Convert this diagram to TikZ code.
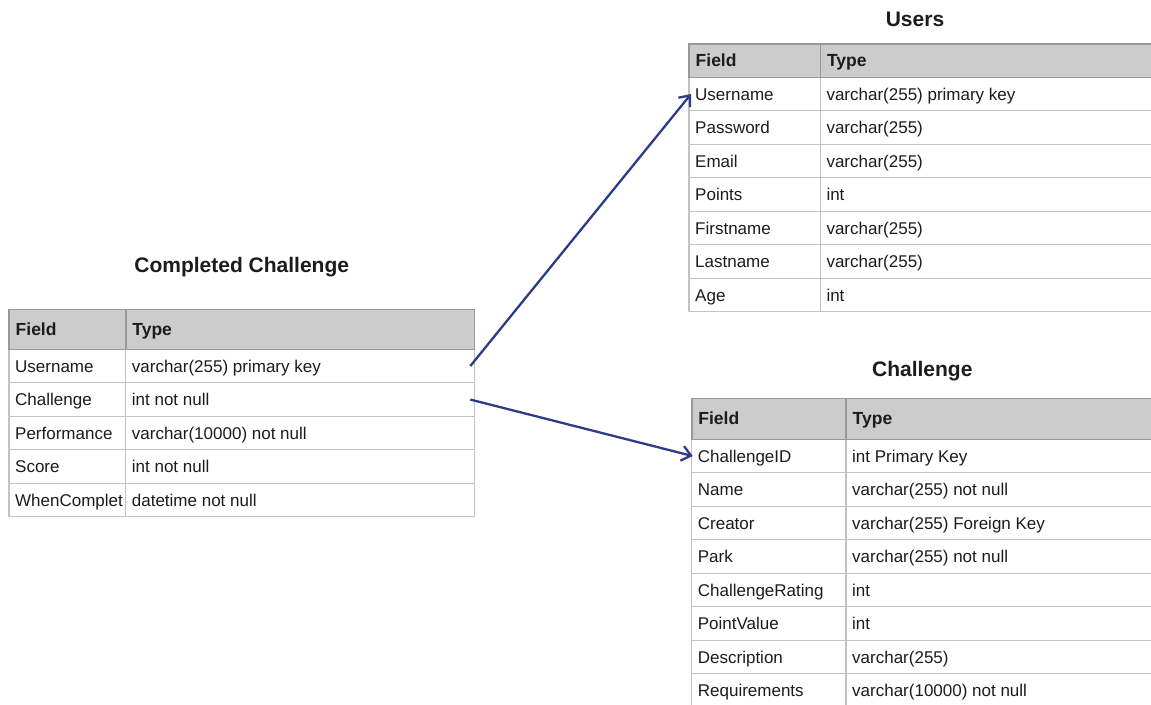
\documentclass[tikz,border=0pt]{standalone}
\usepackage{fontspec}
\setmainfont{Liberation Sans}
\usetikzlibrary{arrows.meta}

\definecolor{hdrfill}{HTML}{CCCCCC}
\definecolor{hdrline}{HTML}{9A9A9A}
\definecolor{rowline}{HTML}{C2C2C2}
\definecolor{linkblue}{HTML}{2E3B86}
\definecolor{ink}{HTML}{1C1C1C}

\tikzset{
  hdrcell/.style={draw=hdrline, fill=hdrfill, line width=1.6pt, rectangle,
    inner sep=0pt, outer sep=0pt, anchor=north west},
  rowcell/.style={draw=rowline, line width=1.3pt, rectangle,
    inner sep=0pt, outer sep=0pt, anchor=north west},
  hdrtext/.style={anchor=west, inner sep=0pt, text=ink,
    text height=12.6pt, text depth=3.6pt,
    font=\fontsize{17.5}{20}\selectfont\bfseries},
  celltext/.style={anchor=west, inner sep=0pt, text=ink,
    text height=12.3pt, text depth=3.6pt,
    font=\fontsize{17}{20}\selectfont},
  tabletitle/.style={inner sep=0pt, text=ink,
    font=\fontsize{21}{24}\selectfont\bfseries},
  link/.style={draw=linkblue, line width=2.3pt,
    -{Straight Barb[length=9pt, width=15pt, line width=2.3pt]}},
}

% #1 name prefix, #2 left x, #3 top y, #4 field column width,
% #5 type column width, #6 header height, #7 rows as Field/Type pairs
\newcommand{\dbtable}[7]{%
  \foreach \fld/\typ [count=\i] in {#7} {
    \pgfmathsetmacro{\yy}{#3+#6+(\i-1)*33.5}
    \node[rowcell, minimum width=#4pt, minimum height=33.5pt] (#1-f\i) at (#2,\yy) {};
    \node[rowcell, minimum width=#5pt, minimum height=33.5pt] (#1-t\i) at (#1-f\i.north east) {};
    \node[celltext] (#1-fl\i) at ([xshift=6pt, yshift=-1.6pt]#1-f\i.west) {\fld};
    \node[celltext] (#1-tl\i) at ([xshift=6pt, yshift=-1.6pt]#1-t\i.west) {\typ};
  }%
  \node[hdrcell, minimum width=#4pt, minimum height=#6pt] (#1-hf) at (#2,#3) {};
  \node[hdrcell, minimum width=#5pt, minimum height=#6pt] (#1-ht) at (#1-hf.north east) {};
  \node[hdrtext] (#1-hfl) at ([xshift=6.5pt, yshift=-1.2pt]#1-hf.west) {Field};
  \node[hdrtext] (#1-htl) at ([xshift=6.5pt, yshift=-1.2pt]#1-ht.west) {Type};
}

\begin{document}
\begin{tikzpicture}[x=1pt, y=-1pt]
  \clip (0,0) rectangle (1151,704);
  \fill[white] (0,0) rectangle (1151,704);

  % Completed Challenge
  \node[tabletitle] (cc-title) at (241.7,266.7) {Completed Challenge};
  \dbtable{cc}{9}{309.3}{116.7}{348.6}{40}{%
    Username/varchar(255) primary key,
    Challenge/int not null,
    Performance/varchar(10000) not null,
    Score/int not null,
    WhenComplet/datetime not null}

  % Users
  \node[tabletitle] (us-title) at (915,19) {Users};
  \dbtable{us}{689}{44}{131.3}{350}{33.3}{%
    Username/varchar(255) primary key,
    Password/varchar(255),
    Email/varchar(255),
    Points/int,
    Firstname/varchar(255),
    Lastname/varchar(255),
    Age/int}

  % Challenge
  \node[tabletitle] (ch-title) at (922.3,370.7) {Challenge};
  \dbtable{ch}{691.7}{398.3}{154.3}{330}{41}{%
    ChallengeID/int Primary Key,
    Name/varchar(255) not null,
    Creator/varchar(255) Foreign Key,
    Park/varchar(255) not null,
    ChallengeRating/int,
    PointValue/int,
    Description/varchar(255),
    Requirements/varchar(10000) not null}

  % References between tables
  \draw[link] ([xshift=-4pt]cc-t1.east) -- ([xshift=2pt]us-f1.west);
  \draw[link] ([xshift=-4pt]cc-t2.east) -- ([xshift=1pt]ch-f1.west);
\end{tikzpicture}
\end{document}
